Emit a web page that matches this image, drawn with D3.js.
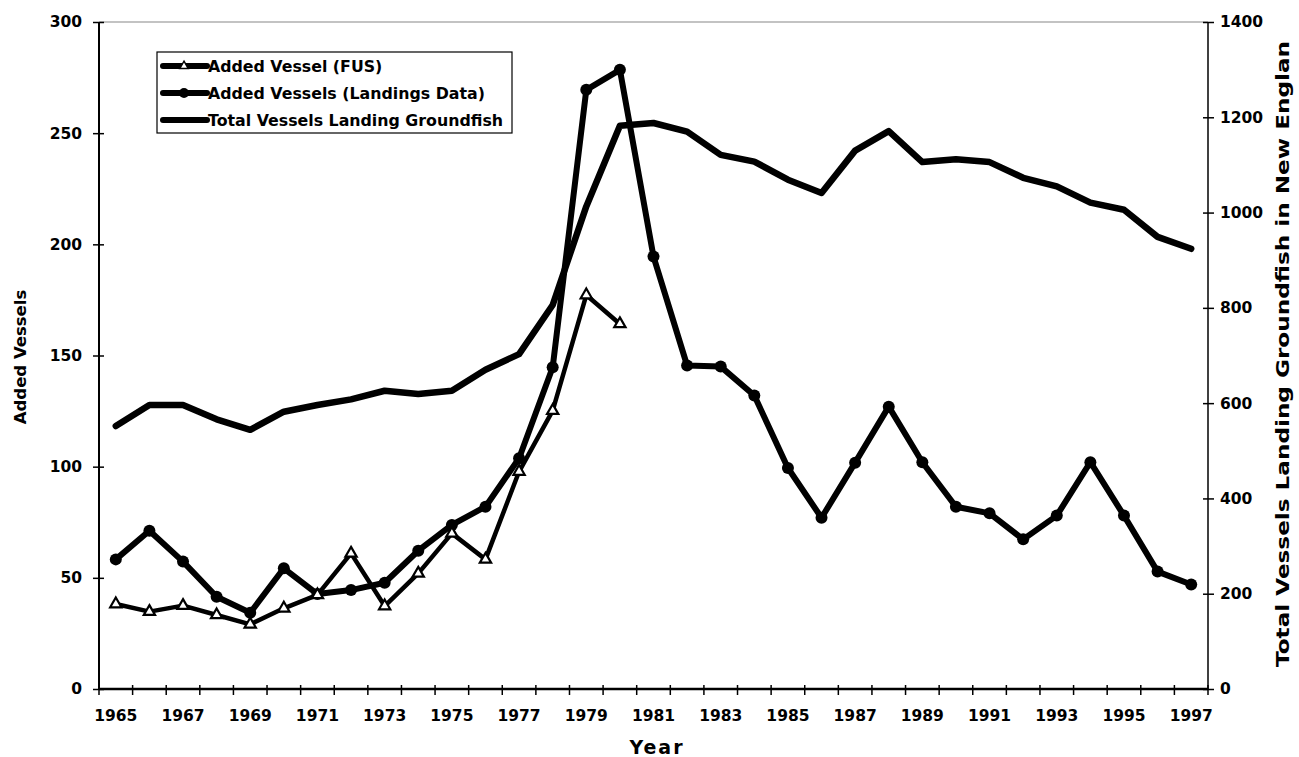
<!DOCTYPE html>
<html>
<head>
<meta charset="utf-8">
<script src="https://cdn.jsdelivr.net/npm/d3@7"></script>
<style>
  body { margin: 0; background: #fff; }
  text { font-family: 'DejaVu Sans', sans-serif; font-weight: bold; fill: #000; }
</style>
</head>
<body>
<svg id="chart" width="1299" height="757"></svg>
<script>
const years = [1965, 1966, 1967, 1968, 1969, 1970, 1971, 1972, 1973, 1974, 1975,
  1976, 1977, 1978, 1979, 1980, 1981, 1982, 1983, 1984, 1985, 1986,
  1987, 1988, 1989, 1990, 1991, 1992, 1993, 1994, 1995, 1996, 1997];

// added vessels, FUS (left axis), stops after 1980
const fus = [38.2, 34.8, 37.5, 33.3, 29.1, 36.3, 42.3, 61, 37.3, 52, 70,
  58.3, 97.8, 125.2, 177.2, 164.2, null, null, null, null, null, null,
  null, null, null, null, null, null, null, null, null, null, null];

// added vessels, landings data (left axis)
const landings = [58.3, 71.2, 57.3, 41.5, 34.3, 54.3, 42.7, 44.5, 47.8, 62.2, 73.8,
  82, 103.8, 144.7, 269.5, 278.5, 194.5, 145.5, 145, 132, 99.4, 77,
  101.8, 127, 102, 82, 79, 67.3, 78, 102, 78, 52.8, 47];

// total vessels landing groundfish (right axis)
const total = [552, 596, 596, 566, 544, 582, 596, 608, 626, 619, 626,
  670, 703, 806, 1013, 1182, 1188, 1170, 1121, 1107, 1069, 1041,
  1130, 1171, 1106, 1112, 1106, 1073, 1055, 1021, 1006, 949, 924];

const leftTicks = [0, 50, 100, 150, 200, 250, 300];
const rightTicks = [0, 200, 400, 600, 800, 1000, 1200, 1400];
const labelYears = years.filter(y => y % 2 === 1);

const legendItems = ['Added Vessel (FUS)', 'Added Vessels (Landings Data)', 'Total Vessels Landing Groundfish'];

const svg = d3.select('#chart');
const plotL = 99, plotR = 1208, plotT = 22, plotB = 689;

const x = d3.scaleBand().domain(years).range([plotL, plotR]).padding(0);
const yL = d3.scaleLinear().domain([0, 300]).range([plotB, plotT]);
const yR = d3.scaleLinear().domain([0, 1400]).range([plotB, plotT]);
const cx = d => x(d) + x.bandwidth() / 2;

// top border (faint)
svg.append('line')
  .attr('x1', plotL).attr('x2', plotR).attr('y1', plotT).attr('y2', plotT)
  .attr('stroke', '#888').attr('stroke-width', 1.2);

// left axis
const gL = svg.append('g').attr('transform', `translate(${plotL},0)`)
  .call(d3.axisLeft(yL).tickValues(leftTicks).tickSize(6).tickPadding(11));
gL.select('.domain').attr('stroke-width', 2).attr('d', `M0,${plotT}V${plotB}`);
gL.selectAll('.tick line').attr('x2', -6).attr('x1', 5).attr('stroke-width', 1.5);
gL.selectAll('.tick text').attr('font-size', 15.5);

// right axis
const gR = svg.append('g').attr('transform', `translate(${plotR},0)`)
  .call(d3.axisRight(yR).tickValues(rightTicks).tickFormat(d3.format('d')).tickSize(6).tickPadding(6));
gR.select('.domain').attr('stroke-width', 1.5).attr('d', `M0,${plotT}V${plotB}`);
gR.selectAll('.tick line').attr('x1', -5).attr('x2', 6).attr('stroke-width', 1.5);
gR.selectAll('.tick text').attr('font-size', 15.5);

// bottom axis: ticks at category edges, labels on odd years
const gB = svg.append('g').attr('transform', `translate(0,${plotB})`);
gB.append('line').attr('x1', plotL).attr('x2', plotR)
  .attr('stroke', '#000').attr('stroke-width', 2.5);
gB.selectAll('line.edge')
  .data(years.concat([null]))
  .join('line')
  .attr('class', 'edge')
  .attr('x1', d => d === null ? plotR : x(d))
  .attr('x2', d => d === null ? plotR : x(d))
  .attr('y1', -4).attr('y2', 6)
  .attr('stroke', '#000').attr('stroke-width', 1.5);
gB.selectAll('text.yr')
  .data(labelYears)
  .join('text')
  .attr('class', 'yr')
  .attr('x', d => cx(d))
  .attr('y', 32)
  .attr('text-anchor', 'middle')
  .attr('font-size', 15.5)
  .text(d => d);

// axis titles
svg.append('text')
  .attr('x', 657).attr('y', 754)
  .attr('text-anchor', 'middle')
  .attr('font-size', 19)
  .attr('letter-spacing', 2)
  .text('Year');

svg.append('text')
  .attr('transform', `translate(26,357) rotate(-90)`)
  .attr('text-anchor', 'middle')
  .attr('font-size', 16.5)
  .text('Added Vessels');

svg.append('text')
  .attr('transform', `translate(1289,354) rotate(-90)`)
  .attr('text-anchor', 'middle')
  .attr('font-size', 17.5)
  .attr('textLength', 626)
  .attr('lengthAdjust', 'spacingAndGlyphs')
  .text('Total Vessels Landing Groundfish in New Englan');

// series
const lineL = d3.line().defined(d => d[1] !== null).x(d => cx(d[0])).y(d => yL(d[1]));
const lineR = d3.line().x(d => cx(d[0])).y(d => yR(d[1]));

svg.append('path')
  .datum(years.map((d, i) => [d, total[i]]))
  .attr('d', lineR)
  .attr('fill', 'none').attr('stroke', '#000').attr('stroke-width', 6.5)
  .attr('stroke-linejoin', 'round').attr('stroke-linecap', 'round');

svg.append('path')
  .datum(years.map((d, i) => [d, landings[i]]))
  .attr('d', lineL)
  .attr('fill', 'none').attr('stroke', '#000').attr('stroke-width', 6)
  .attr('stroke-linejoin', 'round');

svg.selectAll('circle.land')
  .data(years.map((d, i) => [d, landings[i]]))
  .join('circle')
  .attr('class', 'land')
  .attr('cx', d => cx(d[0])).attr('cy', d => yL(d[1]))
  .attr('r', 6).attr('fill', '#000');

svg.append('path')
  .datum(years.map((d, i) => [d, fus[i]]))
  .attr('d', lineL)
  .attr('fill', 'none').attr('stroke', '#000').attr('stroke-width', 4.5)
  .attr('stroke-linejoin', 'round');

const tri = d3.symbol(d3.symbolTriangle, 55);
svg.selectAll('path.fus')
  .data(years.map((d, i) => [d, fus[i]]).filter(d => d[1] !== null))
  .join('path')
  .attr('class', 'fus')
  .attr('d', tri)
  .attr('transform', d => `translate(${cx(d[0])},${yL(d[1])})`)
  .attr('fill', '#fff').attr('stroke', '#000').attr('stroke-width', 2.2);

// legend
const lg = svg.append('g');
lg.append('rect')
  .attr('x', 157).attr('y', 52).attr('width', 355).attr('height', 81)
  .attr('fill', '#fff').attr('stroke', '#000').attr('stroke-width', 1.2);

legendItems.forEach((label, i) => {
  const ly = 66 + i * 27;
  lg.append('line')
    .attr('x1', 163).attr('x2', 207).attr('y1', ly).attr('y2', ly)
    .attr('stroke', '#000').attr('stroke-width', 6).attr('stroke-linecap', 'round');
  if (i === 0) {
    lg.append('path').attr('d', d3.symbol(d3.symbolTriangle, 30))
      .attr('transform', `translate(184,${ly})`)
      .attr('fill', '#fff').attr('stroke', '#000').attr('stroke-width', 1.5);
  } else if (i === 1) {
    lg.append('circle').attr('cx', 184).attr('cy', ly).attr('r', 5).attr('fill', '#000');
  }
  lg.append('text')
    .attr('x', 208).attr('y', ly + 6)
    .attr('font-size', 15.8)
    .text(label);
});
</script>
</body>
</html>
